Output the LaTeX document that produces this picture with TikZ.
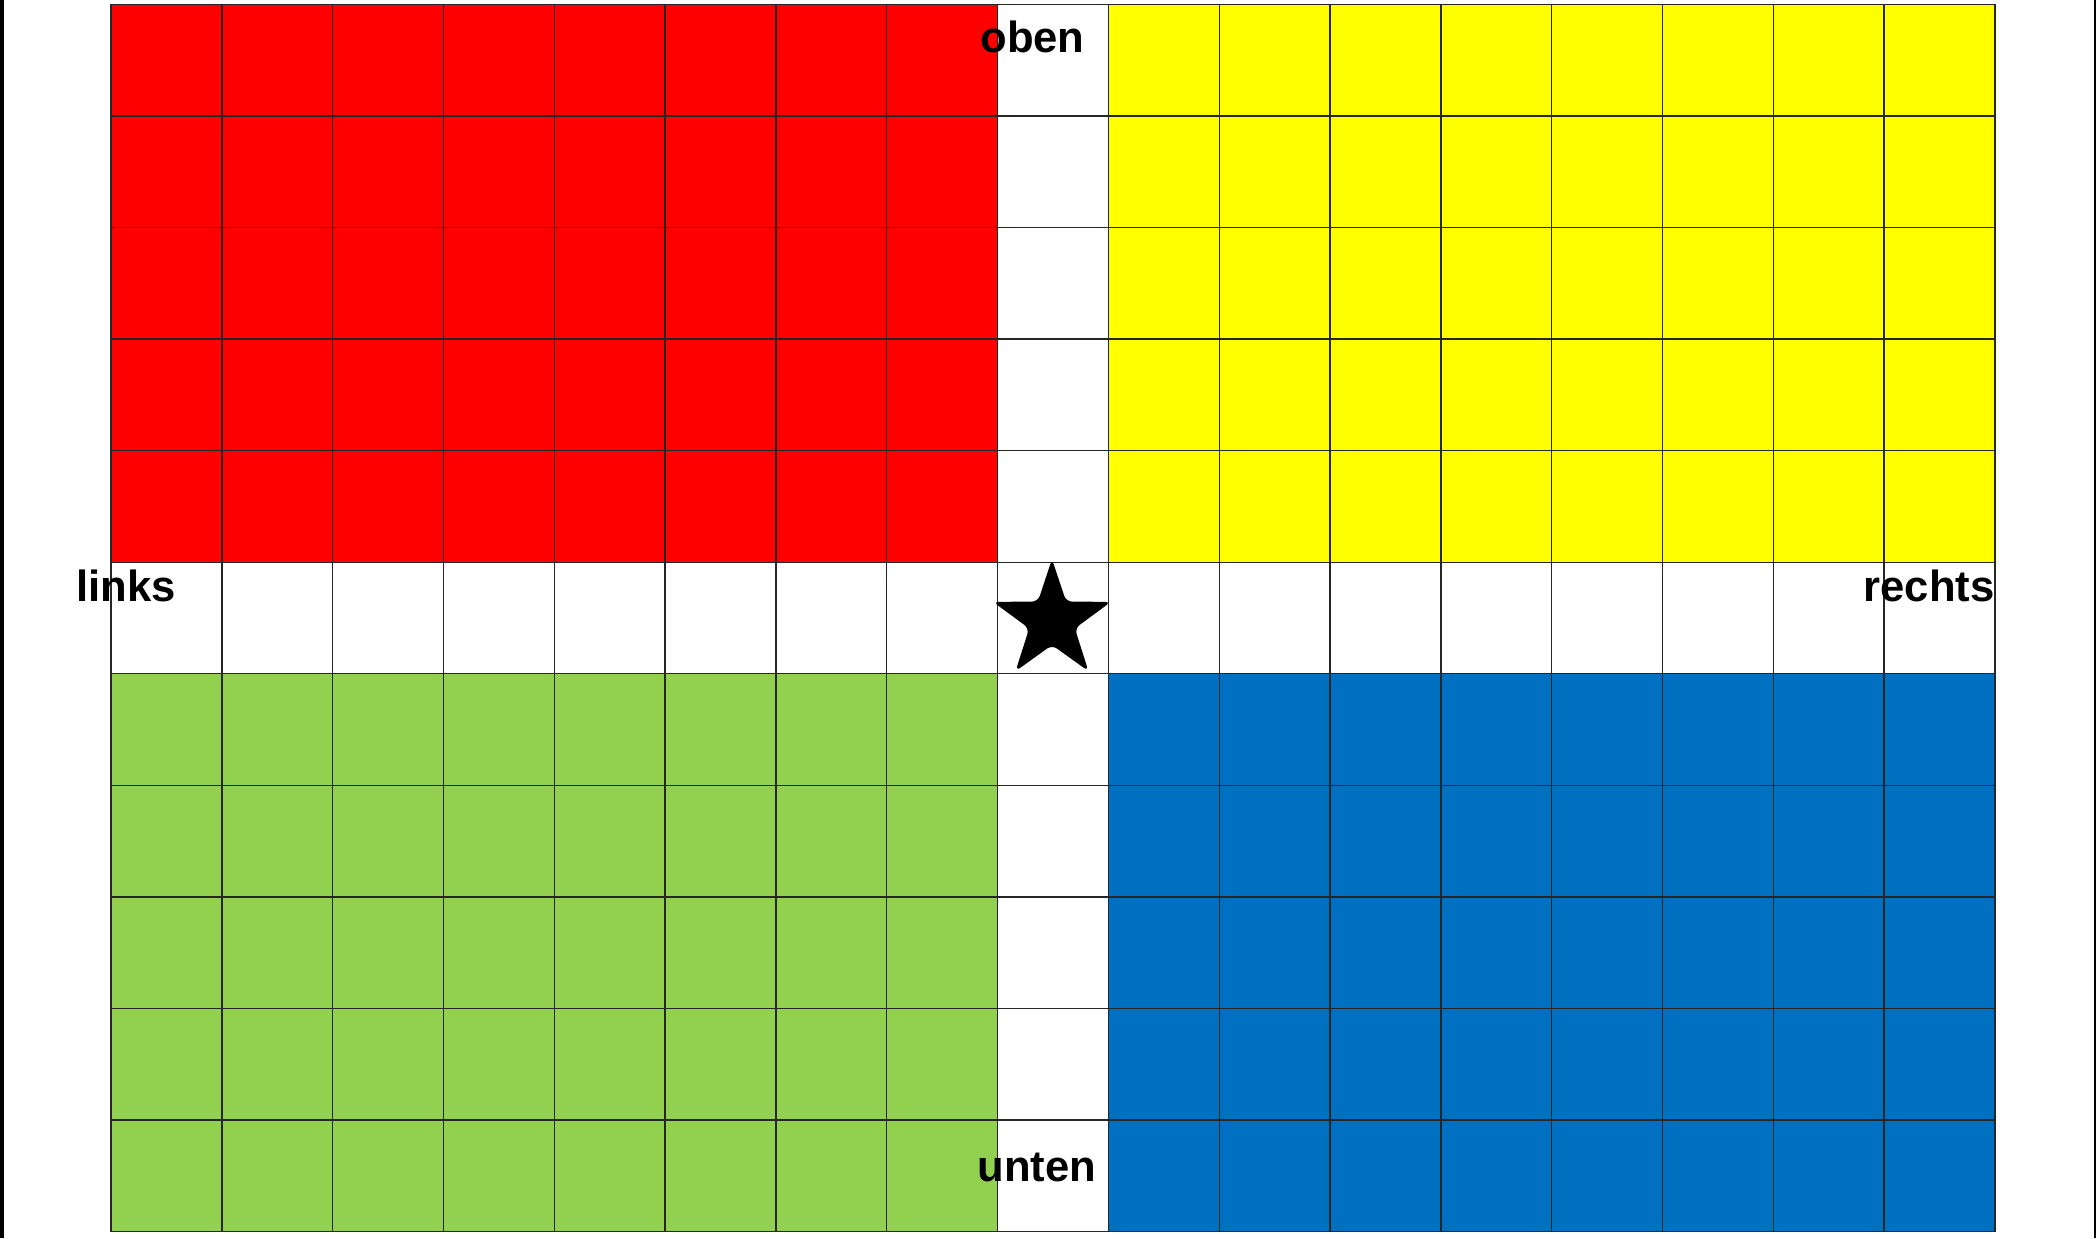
\documentclass[tikz,border=0pt]{standalone}
\usepackage{fontspec}
\setmainfont{Liberation Sans}
\definecolor{cred}{HTML}{FF0000}
\definecolor{cyel}{HTML}{FFFF00}
\definecolor{cgrn}{HTML}{92D050}
\definecolor{cblu}{HTML}{0070C0}
\begin{document}
\begin{tikzpicture}[x=0.5pt,y=-0.5pt,
  gridline/.style={draw=black!85,line width=0.7pt},
  border/.style={draw=black,line width=2pt},
  lbl/.style={font=\fontsize{21.8}{26}\selectfont\bfseries,inner sep=0pt}]
\useasboundingbox (0,0) rectangle (2096,1238);
\def\cw{110.82}\def\ch{111.58}\def\gx{111}\def\gy{4.3}
% coloured quadrants
\fill[cred] (\gx,\gy) rectangle ({\gx+8*\cw},{\gy+5*\ch});
\fill[cyel] ({\gx+9*\cw},\gy) rectangle ({\gx+17*\cw},{\gy+5*\ch});
\fill[cgrn] (\gx,{\gy+6*\ch}) rectangle ({\gx+8*\cw},{\gy+11*\ch});
\fill[cblu] ({\gx+9*\cw},{\gy+6*\ch}) rectangle ({\gx+17*\cw},{\gy+11*\ch});
% grid
\foreach \i in {0,...,17}
  \draw[gridline] ({\gx+\i*\cw},\gy) -- ({\gx+\i*\cw},{\gy+11*\ch});
\foreach \j in {0,...,11}
  \draw[gridline] (\gx,{\gy+\j*\ch}) -- ({\gx+17*\cw},{\gy+\j*\ch});
% page borders
\draw[border] (2,0) -- (2,1238);
\draw[line width=1.5pt] (2095,0) -- (2095,1238);
% star
\begin{scope}[shift={(1052,621)}]
\fill[black,rounded corners=3pt] (-90:62) -- (-54:24) -- (-18:62) -- (18:24) -- (54:62) -- (90:24) -- (126:62) -- (162:24) -- (198:62) -- (234:24) -- cycle;
\end{scope}
% labels
\node[lbl,anchor=base west] (oben) at (980,52) {oben};
\node[lbl,anchor=base west] (links) at (76,601) {links};
\node[lbl,anchor=base east] (rechts) at (1995,601) {rechts};
\node[lbl,anchor=base west] (unten) at (977,1181) {unten};
\end{tikzpicture}
\end{document}
